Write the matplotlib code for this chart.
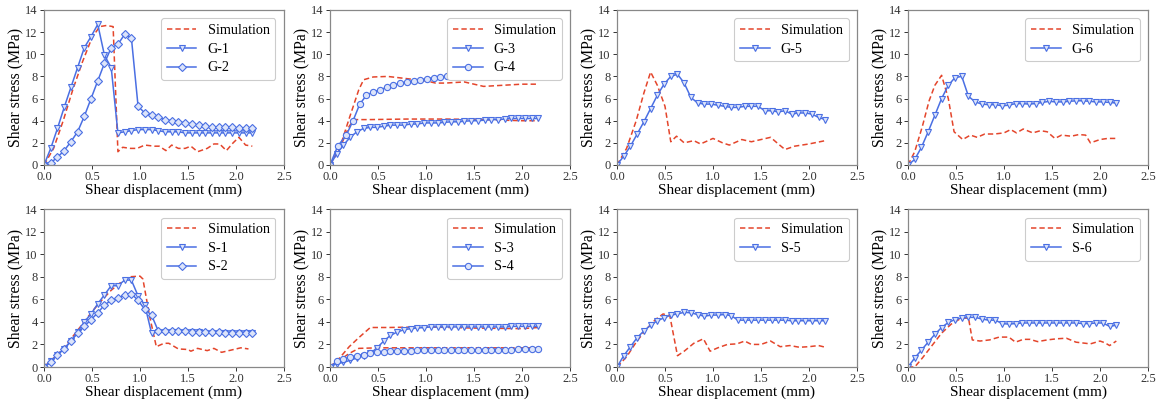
import numpy as np
import matplotlib
matplotlib.use("Agg")
import matplotlib.pyplot as plt

plt.rcParams['font.family'] = ['Liberation Serif', 'DejaVu Serif']
plt.rcParams['mathtext.fontset'] = 'stix'

RED = '#E4452B'
BLUE = '#4A6FE3'

# marker spacing of the test curves (mm)
xm = np.round(np.arange(32) * 0.07, 2)

# ---- G-1 / G-2 ----
sim1_x = [0, 0.1, 0.2, 0.3, 0.4, 0.5, 0.58, 0.65, 0.72, 0.77, 0.82, 0.9, 0.97, 1.05, 1.15, 1.2, 1.27, 1.33,
          1.4, 1.47, 1.53, 1.6, 1.7, 1.77, 1.83, 1.9, 1.97, 2.03, 2.1, 2.17]
sim1_y = [0, 1.5, 4.0, 6.8, 9.3, 11.5, 12.5, 12.6, 12.5, 1.2, 1.6, 1.5, 1.5, 1.8, 1.7, 1.7, 1.3, 1.8,
          1.5, 1.5, 1.7, 1.2, 1.5, 1.9, 1.9, 1.3, 2.0, 2.5, 1.8, 1.7]
g1 = [0, 1.5, 3.3, 5.2, 7.0, 8.8, 10.6, 11.6, 12.7, 9.9, 8.8, 2.9, 3.0, 3.1, 3.2, 3.2, 3.2, 3.1,
      3.0, 3.0, 3.0, 2.9, 2.9, 2.9, 2.9, 2.9, 2.9, 2.9, 2.9, 2.9, 2.9, 2.9]
g2 = [0, 0.2, 0.7, 1.3, 2.1, 3.0, 4.4, 6.0, 7.6, 9.2, 10.6, 10.9, 11.8, 11.5, 5.3, 4.7, 4.5, 4.3,
      4.1, 4.0, 3.9, 3.8, 3.7, 3.6, 3.5, 3.4, 3.4, 3.4, 3.4, 3.3, 3.3, 3.3]

# ---- G-3 / G-4 ----
sim2a_x = [0, 0.1, 0.2, 0.3, 0.35, 0.45, 0.6, 0.8, 1.0, 1.1, 1.2, 1.4, 1.5, 1.6, 1.8, 2.0, 2.17]
sim2a_y = [0, 1.5, 4.2, 6.8, 7.7, 7.95, 8.0, 7.8, 7.6, 7.4, 7.4, 7.5, 7.3, 7.1, 7.2, 7.3, 7.3]
sim2b_x = [0, 0.1, 0.2, 0.25, 0.4, 0.8, 1.2, 1.6, 2.0, 2.17]
sim2b_y = [0, 1.5, 3.5, 4.1, 4.1, 4.15, 4.15, 4.1, 4.0, 4.0]
g3 = [0, 1.0, 1.8, 2.5, 3.0, 3.3, 3.4, 3.4, 3.5, 3.6, 3.6, 3.6, 3.7, 3.7, 3.8, 3.8, 3.8, 3.85,
      3.9, 3.9, 3.95, 4.0, 4.0, 4.05, 4.1, 4.1, 4.15, 4.2, 4.2, 4.2, 4.2, 4.2]
g4_x = [0, 0.08, 0.17, 0.24, 0.31, 0.38, 0.45, 0.52, 0.59, 0.66, 0.73, 0.8, 0.87, 0.94, 1.01, 1.08,
        1.15, 1.22, 1.29, 1.36, 1.43, 1.5, 1.57, 1.64, 1.71, 1.78, 1.85, 1.92, 1.99, 2.06, 2.13]
g4 = [0, 1.7, 2.7, 4.0, 5.5, 6.3, 6.6, 6.8, 7.0, 7.2, 7.4, 7.5, 7.6, 7.7, 7.8, 7.9,
      7.95, 8.0, 8.0, 8.05, 8.1, 8.1, 8.15, 8.2, 8.2, 8.2, 8.2, 8.2, 8.25, 8.3, 8.3]

# ---- G-5 ----
sim3_x = [0, 0.1, 0.2, 0.28, 0.35, 0.42, 0.5, 0.56, 0.62, 0.7, 0.8, 0.87, 1.0, 1.1, 1.17, 1.3,
          1.4, 1.5, 1.6, 1.68, 1.75, 1.85, 2.0, 2.17]
sim3_y = [0, 1.5, 4.0, 6.5, 8.4, 7.2, 5.3, 2.1, 2.6, 2.0, 2.2, 1.9, 2.4, 2.0, 1.8, 2.3,
          2.1, 2.3, 2.5, 1.9, 1.4, 1.7, 1.9, 2.2]
g5 = [0, 0.8, 1.7, 2.8, 3.9, 5.1, 6.3, 7.3, 8.0, 8.2, 7.4, 6.1, 5.6, 5.5, 5.5, 5.4, 5.3, 5.2,
      5.2, 5.3, 5.3, 5.3, 4.9, 4.9, 4.8, 4.9, 4.6, 4.7, 4.7, 4.6, 4.3, 4.1]

# ---- G-6 ----
sim4_x = [0, 0.07, 0.15, 0.22, 0.28, 0.35, 0.42, 0.48, 0.57, 0.65, 0.72, 0.8, 0.9, 1.0, 1.07, 1.13,
          1.2, 1.3, 1.38, 1.45, 1.53, 1.6, 1.7, 1.78, 1.85, 1.9, 2.0, 2.08, 2.17]
sim4_y = [0, 1.2, 3.5, 5.8, 7.2, 8.1, 6.0, 3.0, 2.3, 2.7, 2.5, 2.8, 2.8, 2.9, 3.2, 2.9,
          3.25, 2.9, 3.1, 3.0, 2.4, 2.7, 2.6, 2.75, 2.7, 2.0, 2.3, 2.4, 2.4]
g6 = [0, 0.5, 1.6, 3.0, 4.5, 6.0, 7.2, 7.9, 8.0, 6.2, 5.7, 5.5, 5.45, 5.45, 5.35, 5.4, 5.55, 5.55,
      5.5, 5.55, 5.65, 5.75, 5.7, 5.7, 5.75, 5.8, 5.8, 5.75, 5.7, 5.7, 5.65, 5.6]

# ---- S-1 / S-2 ----
sim5_x = [0, 0.1, 0.2, 0.3, 0.4, 0.5, 0.6, 0.7, 0.8, 0.9, 1.0, 1.03, 1.1, 1.17, 1.25, 1.3, 1.4,
          1.5, 1.53, 1.6, 1.7, 1.77, 1.85, 1.95, 2.05, 2.13]
sim5_y = [0, 0.8, 1.6, 2.7, 3.8, 4.9, 5.9, 6.8, 7.5, 8.0, 8.05, 7.8, 4.5, 1.8, 2.1, 2.1, 1.6,
          1.55, 1.4, 1.65, 1.45, 1.65, 1.3, 1.5, 1.7, 1.6]
s1 = [0, 0.5, 1.1, 1.6, 2.3, 3.1, 4.0, 4.7, 5.6, 6.4, 7.2, 7.2, 7.7, 7.7, 6.3, 5.5, 3.0, 3.1,
      3.1, 3.1, 3.1, 3.1, 3.1, 3.1, 3.05, 3.05, 3.05, 3.05, 3.05, 3.05, 3.05, 3.05]
s2 = [0, 0.4, 1.1, 1.6, 2.3, 3.0, 3.6, 4.2, 4.8, 5.5, 5.9, 6.1, 6.4, 6.5, 5.9, 5.1, 4.6, 3.2,
      3.2, 3.2, 3.15, 3.15, 3.1, 3.1, 3.1, 3.1, 3.1, 3.05, 3.05, 3.05, 3.05, 3.05]

# ---- S-3 / S-4 ----
sim6a_x = [0, 0.1, 0.2, 0.3, 0.42, 0.6, 1.0, 1.5, 2.0, 2.17]
sim6a_y = [0, 0.8, 1.8, 2.6, 3.5, 3.5, 3.55, 3.45, 3.4, 3.5]
sim6b_x = [0, 0.1, 0.2, 0.3, 0.5, 1.0, 1.5, 2.0, 2.17]
sim6b_y = [0, 0.6, 1.2, 1.65, 1.7, 1.7, 1.7, 1.7, 1.7]
s3 = [0, 0.3, 0.4, 0.6, 0.8, 1.0, 1.2, 1.7, 2.3, 2.8, 3.1, 3.3, 3.4, 3.45, 3.5, 3.55, 3.55, 3.55,
      3.55, 3.55, 3.55, 3.55, 3.55, 3.55, 3.55, 3.55, 3.55, 3.6, 3.6, 3.6, 3.6, 3.6]
s4 = [0, 0.5, 0.7, 0.9, 1.0, 1.1, 1.2, 1.3, 1.35, 1.4, 1.4, 1.45, 1.45, 1.5, 1.5, 1.5, 1.5, 1.5,
      1.5, 1.5, 1.5, 1.5, 1.55, 1.55, 1.55, 1.55, 1.55, 1.55, 1.6, 1.6, 1.6, 1.6]

# ---- S-5 ----
sim7_x = [0, 0.1, 0.2, 0.3, 0.4, 0.48, 0.55, 0.63, 0.7, 0.8, 0.9, 0.97, 1.05, 1.15, 1.25, 1.33,
          1.4, 1.5, 1.6, 1.7, 1.8, 1.9, 2.0, 2.1, 2.17]
sim7_y = [0, 0.9, 2.2, 3.3, 4.2, 4.7, 4.55, 1.0, 1.4, 2.1, 2.5, 1.4, 1.7, 2.0, 2.05, 2.3,
          2.0, 2.0, 2.3, 1.8, 1.9, 1.75, 1.8, 1.9, 1.75]
s5 = [0, 1.0, 1.8, 2.6, 3.2, 3.7, 4.1, 4.35, 4.6, 4.7, 4.85, 4.8, 4.65, 4.5, 4.6, 4.6, 4.65, 4.55,
      4.15, 4.15, 4.15, 4.15, 4.15, 4.15, 4.15, 4.15, 4.1, 4.1, 4.1, 4.1, 4.1, 4.1]

# ---- S-6 ----
sim8_x = [0, 0.07, 0.15, 0.25, 0.35, 0.45, 0.55, 0.63, 0.67, 0.75, 0.85, 0.95, 1.05, 1.12, 1.2,
          1.27, 1.35, 1.45, 1.55, 1.65, 1.75, 1.9, 2.0, 2.05, 2.1, 2.17]
sim8_y = [0, 0.0, 0.8, 1.9, 3.0, 3.8, 4.3, 4.35, 2.4, 2.3, 2.4, 2.65, 2.65, 2.2, 2.45,
          2.45, 2.25, 2.4, 2.5, 2.55, 2.2, 2.05, 2.3, 2.15, 1.9, 2.3]
s6 = [0, 0.8, 1.5, 2.2, 2.9, 3.5, 3.95, 4.2, 4.35, 4.4, 4.4, 4.25, 4.15, 4.15, 3.85, 3.8, 3.85, 3.9,
      3.9, 3.9, 3.9, 3.9, 3.9, 3.9, 3.9, 3.9, 3.85, 3.85, 3.9, 3.9, 3.6, 3.7]

W, H = 1168, 404
fig = plt.figure(figsize=(W / 100, H / 100), dpi=100)

lefts = [44, 330, 617, 908]
rows = [(10, 165), (209, 367)]
axw = 240


def make_ax(col, row):
    top, bot = rows[row]
    ax = fig.add_axes([lefts[col] / W, 1 - bot / H, axw / W, (bot - top) / H])
    ax.set_xlim(0, 2.5)
    ax.set_ylim(0, 14)
    ax.set_xticks([0, 0.5, 1.0, 1.5, 2.0, 2.5])
    ax.set_xticklabels(['0.0', '0.5', '1.0', '1.5', '2.0', '2.5'])
    ax.set_yticks(range(0, 15, 2))
    ax.tick_params(labelsize=9, length=3, width=0.7, colors='#333333', pad=1.5)
    for s in ax.spines.values():
        s.set_color('#888888')
        s.set_linewidth(0.9)
    ax.set_xlabel('Shear displacement (mm)', fontsize=11, labelpad=0)
    ax.set_ylabel('Shear stress (MPa)', fontsize=11.3, labelpad=1)
    return ax


def sim(ax, x, y, label=None):
    ax.plot(x, y, '--', color=RED, lw=1.1, label=label, dashes=(3.5, 2))


def test(ax, x, y, label, marker='v', ms=4.5):
    ax.plot(x, y, '-', color=BLUE, lw=1.1, marker=marker, ms=ms, mfc='#DCE4FA',
            mec=BLUE, mew=0.8, label=label)


def legend(ax):
    leg = ax.legend(loc='upper right', fontsize=10.2, handlelength=2.1, handletextpad=0.8,
                    borderpad=0.4, labelspacing=0.4, borderaxespad=0.6,
                    edgecolor='#CCCCCC', framealpha=1)
    leg.get_frame().set_linewidth(0.8)


ax = make_ax(0, 0)
sim(ax, sim1_x, sim1_y, 'Simulation')
test(ax, xm, g1, 'G-1')
test(ax, xm, g2, 'G-2', marker='D', ms=4)
legend(ax)

ax = make_ax(1, 0)
sim(ax, sim2a_x, sim2a_y, 'Simulation')
sim(ax, sim2b_x, sim2b_y)
test(ax, xm, g3, 'G-3')
test(ax, g4_x, g4, 'G-4', marker='o', ms=4.5)
legend(ax)

ax = make_ax(2, 0)
sim(ax, sim3_x, sim3_y, 'Simulation')
test(ax, xm, g5, 'G-5')
legend(ax)

ax = make_ax(3, 0)
sim(ax, sim4_x, sim4_y, 'Simulation')
test(ax, xm, g6, 'G-6')
legend(ax)

ax = make_ax(0, 1)
sim(ax, sim5_x, sim5_y, 'Simulation')
test(ax, xm, s1, 'S-1')
test(ax, xm, s2, 'S-2', marker='D', ms=4)
legend(ax)

ax = make_ax(1, 1)
sim(ax, sim6a_x, sim6a_y, 'Simulation')
sim(ax, sim6b_x, sim6b_y)
test(ax, xm, s3, 'S-3')
test(ax, xm, s4, 'S-4', marker='o', ms=4.5)
legend(ax)

ax = make_ax(2, 1)
sim(ax, sim7_x, sim7_y, 'Simulation')
test(ax, xm, s5, 'S-5')
legend(ax)

ax = make_ax(3, 1)
sim(ax, sim8_x, sim8_y, 'Simulation')
test(ax, xm, s6, 'S-6')
legend(ax)

fig.savefig('out.png', dpi=100)
